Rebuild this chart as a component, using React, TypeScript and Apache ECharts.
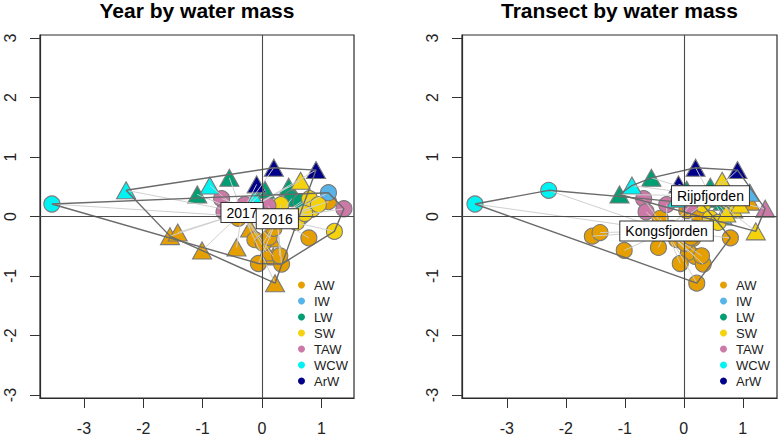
import React, { useEffect, useRef } from "react";
import * as echarts from "echarts";

const FONT = "'Liberation Sans', Arial, Helvetica, sans-serif";

// Water masses and their colours
const waterMasses = ["AW", "IW", "LW", "SW", "TAW", "WCW", "ArW"];
const massColors = ["#E69F00", "#56B4E9", "#009E73", "#F4D20C", "#CC79A7", "#00F2F2", "#00008B"];

// Ordination scores of the samples
const axis1 = [
  -3.54, -2.29, -0.88, -0.12, -1.09, -0.55, 0.45, 0.5, 0.66, 0.05,
  0.2, 0.91, -0.09, 0.65, 1.22, 0.32, 0.45, 0.58, 0.8, 0.84,
  0.72, 0.95, 1.12, 0.66, -0.68, -0.64, -0.29, 1.38, 0.1, -1.55,
  -1.42, -1.01, -0.43, 0.22, 0.19, -0.2, 0.15, 0.08, 0.79, -0.06,
  0.33, 0.3, -0.12, 0.02, 0.12, 0.05, 0.25, -0.4, 1.12, 0.2,
];
const axis2 = [
  0.21, 0.44, 0.52, 0.3, 0.37, 0.65, 0.5, 0.3, 0.25, 0.45,
  0.82, 0.78, 0.54, 0.6, -0.25, 0.2, -0.03, -0.1, 0.3, 0.12,
  0.05, 0.2, 0.4, 0.0, 0.3, 0.08, 0.2, 0.13, 0.18, -0.33,
  -0.27, -0.57, -0.52, -1.12, -0.67, -0.2, -0.37, -0.6, -0.36, -0.79,
  -0.8, -0.66, -0.39, -0.45, -0.35, 0.1, 0.03, -0.03, 0.25, -0.2,
];
const sampleMass = [
  "WCW", "WCW", "WCW", "WCW", "LW", "LW", "LW", "LW", "LW", "LW",
  "ArW", "ArW", "ArW", "SW", "SW", "SW", "SW", "SW", "SW", "SW",
  "SW", "SW", "IW", "IW", "TAW", "TAW", "TAW", "TAW", "TAW", "AW",
  "AW", "AW", "AW", "AW", "AW", "AW", "AW", "AW", "AW", "AW",
  "AW", "AW", "AW", "AW", "AW", "AW", "AW", "AW", "AW", "AW",
];
const sampleYear = [
  "2016", "2017", "2017", "2017", "2017", "2017", "2017", "2016", "2016", "2017",
  "2017", "2017", "2017", "2017", "2016", "2016", "2016", "2016", "2016", "2016",
  "2016", "2016", "2016", "2016", "2016", "2016", "2016", "2016", "2016", "2017",
  "2017", "2017", "2017", "2017", "2017", "2017", "2017", "2017", "2016", "2016",
  "2016", "2016", "2016", "2016", "2016", "2016", "2016", "2016", "2016", "2016",
];
const sampleTransect = [
  "Kongsfjorden", "Kongsfjorden", "Rijpfjorden", "Rijpfjorden", "Rijpfjorden", "Rijpfjorden", "Rijpfjorden", "Rijpfjorden", "Rijpfjorden", "Rijpfjorden",
  "Rijpfjorden", "Rijpfjorden", "Rijpfjorden", "Rijpfjorden", "Rijpfjorden", "Kongsfjorden", "Kongsfjorden", "Kongsfjorden", "Rijpfjorden", "Rijpfjorden",
  "Rijpfjorden", "Rijpfjorden", "Rijpfjorden", "Rijpfjorden", "Kongsfjorden", "Kongsfjorden", "Kongsfjorden", "Rijpfjorden", "Kongsfjorden", "Kongsfjorden",
  "Kongsfjorden", "Kongsfjorden", "Kongsfjorden", "Kongsfjorden", "Kongsfjorden", "Kongsfjorden", "Kongsfjorden", "Kongsfjorden", "Kongsfjorden", "Kongsfjorden",
  "Kongsfjorden", "Kongsfjorden", "Kongsfjorden", "Kongsfjorden", "Kongsfjorden", "Kongsfjorden", "Kongsfjorden", "Kongsfjorden", "Rijpfjorden", "Kongsfjorden",
];

const xTicks = [-3, -2, -1, 0, 1];
const yTicks = [-3, -2, -1, 0, 1, 2, 3];

const panelTitles = ["Year by water mass", "Transect by water mass"];
// first group of each panel is drawn with triangles, second with circles
const yearGroups = ["2017", "2016"];
const transectGroups = ["Rijpfjorden", "Kongsfjorden"];

function convexHull(pts: number[][]): number[][] {
  const p = pts.slice().sort((a, b) => a[0] - b[0] || a[1] - b[1]);
  const cross = (o: number[], a: number[], b: number[]) =>
    (a[0] - o[0]) * (b[1] - o[1]) - (a[1] - o[1]) * (b[0] - o[0]);
  const lower: number[][] = [];
  for (const q of p) {
    while (lower.length >= 2 && cross(lower[lower.length - 2], lower[lower.length - 1], q) <= 0) lower.pop();
    lower.push(q);
  }
  const upper: number[][] = [];
  for (let i = p.length - 1; i >= 0; i--) {
    const q = p[i];
    while (upper.length >= 2 && cross(upper[upper.length - 2], upper[upper.length - 1], q) <= 0) upper.pop();
    upper.push(q);
  }
  upper.pop();
  lower.pop();
  return lower.concat(upper);
}

function buildOption() {
  const panels = [
    { title: panelTitles[0], groups: yearGroups, member: sampleYear, xMin: -3.74, xMax: 1.55, left: 40, width: 314, legendLeft: 298 },
    { title: panelTitles[1], groups: transectGroups, member: sampleTransect, xMin: -3.76, xMax: 1.58, left: 462, width: 315, legendLeft: 720 },
  ];
  const top = 35;
  const height = 363;

  const grid: any[] = [];
  const xAxis: any[] = [];
  const yAxis: any[] = [];
  const series: any[] = [];
  const legend: any[] = [];
  const graphic: any[] = [];

  panels.forEach((pn, i) => {
    grid.push({ left: pn.left, top, width: pn.width, height, show: true, borderColor: "#2b2b2b", borderWidth: 1.2, backgroundColor: "transparent" });
    xAxis.push({
      type: "value", gridIndex: i, min: pn.xMin, max: pn.xMax,
      axisLine: { show: true, onZero: false, lineStyle: { color: "#2b2b2b", width: 1.2 } },
      axisTick: { show: true, length: 10, customValues: xTicks, lineStyle: { color: "#333", width: 1 } },
      axisLabel: { customValues: xTicks, fontSize: 16, fontFamily: FONT, color: "#222", margin: 22 },
      splitLine: { show: false },
    });
    yAxis.push({
      type: "value", gridIndex: i, min: -3.05, max: 3.05,
      axisLine: { show: true, onZero: false, lineStyle: { color: "#2b2b2b", width: 1.2 } },
      axisTick: { show: true, length: 10, customValues: yTicks, lineStyle: { color: "#333", width: 1 } },
      axisLabel: { customValues: yTicks, fontSize: 16, fontFamily: FONT, color: "#222", margin: 22, rotate: 90 },
      splitLine: { show: false },
    });

    graphic.push({
      type: "text", x: pn.left + pn.width / 2, y: 10, z: 10,
      style: { text: pn.title, font: `bold 21px ${FONT}`, fill: "#000", align: "center", verticalAlign: "middle", textAlign: "center", textVerticalAlign: "middle" },
    });

    // zero reference lines
    series.push({
      type: "line", xAxisIndex: i, yAxisIndex: i, data: [], silent: true, z: 1,
      markLine: {
        silent: true, symbol: ["none", "none"], label: { show: false },
        lineStyle: { color: "#4a4a4a", width: 1.1, type: "solid" },
        emphasis: { disabled: true },
        data: [{ xAxis: 0 }, { yAxis: 0 }],
      },
    });

    // points, one series per water mass
    waterMasses.forEach((m, k) => {
      const data: any[] = [];
      for (let j = 0; j < axis1.length; j++) {
        if (sampleMass[j] !== m) continue;
        const tri = pn.groups.indexOf(pn.member[j]) === 0;
        data.push({ value: [axis1[j], axis2[j]], symbol: tri ? "triangle" : "circle", symbolSize: tri ? [19, 17] : 16 });
      }
      series.push({
        type: "scatter", name: m, xAxisIndex: i, yAxisIndex: i, z: 2, data,
        itemStyle: { color: massColors[k], borderColor: "#7a7a7a", borderWidth: 1.1, opacity: 1 },
        emphasis: { disabled: true },
      });
    });

    // group centroids
    const cents = pn.groups.map((g) => {
      let sx = 0, sy = 0, n = 0;
      for (let j = 0; j < axis1.length; j++) {
        if (pn.member[j] === g) { sx += axis1[j]; sy += axis2[j]; n++; }
      }
      return [sx / n, sy / n];
    });

    // spider lines to centroids
    const spiderData = axis1.map((x, j) => {
      const c = cents[pn.groups.indexOf(pn.member[j])];
      return [x, axis2[j], c[0], c[1]];
    });
    series.push({
      type: "custom", xAxisIndex: i, yAxisIndex: i, z: 3, silent: true, data: spiderData,
      encode: { x: [0, 2], y: [1, 3] },
      renderItem: (params: any, api: any) => {
        const p = api.coord([api.value(0), api.value(1)]);
        const c = api.coord([api.value(2), api.value(3)]);
        return { type: "line", shape: { x1: p[0], y1: p[1], x2: c[0], y2: c[1] }, style: { stroke: "rgba(205,205,205,0.95)", lineWidth: 1 } };
      },
    });

    // convex hulls
    pn.groups.forEach((g) => {
      const pts: number[][] = [];
      for (let j = 0; j < axis1.length; j++) if (pn.member[j] === g) pts.push([axis1[j], axis2[j]]);
      const hull = convexHull(pts);
      hull.push(hull[0]);
      series.push({
        type: "line", xAxisIndex: i, yAxisIndex: i, z: 4, data: hull, showSymbol: false, symbol: "none",
        silent: true, lineStyle: { color: "#6b6b6b", width: 1.4 }, emphasis: { disabled: true },
      });
    });

    // centroid labels
    series.push({
      type: "custom", xAxisIndex: i, yAxisIndex: i, z: 5, silent: true, data: cents,
      renderItem: (params: any, api: any) => {
        const p = api.coord([api.value(0), api.value(1)]);
        return {
          type: "text", x: p[0], y: p[1],
          style: {
            text: pn.groups[params.dataIndex], fill: "#000", font: `14px ${FONT}`,
            align: "center", verticalAlign: "middle",
            backgroundColor: "#fff", borderColor: "#333", borderWidth: 1, padding: [3, 5, 2, 5],
          },
        };
      },
    });

    legend.push({
      orient: "vertical", left: pn.legendLeft, top: 277, padding: 0, itemGap: 0,
      itemWidth: 7, itemHeight: 7, icon: "circle", selectedMode: false,
      data: waterMasses,
      itemStyle: { borderWidth: 0 },
      textStyle: { fontSize: 13, fontFamily: FONT, color: "#222", lineHeight: 16, padding: [0, 0, 0, 4] },
    });
  });

  return { animation: false, backgroundColor: "#fff", grid, xAxis, yAxis, series, legend, graphic };
}

export default function App() {
  const ref = useRef<HTMLDivElement>(null);
  useEffect(() => {
    const chart = echarts.init(ref.current!, null, { renderer: "svg" });
    chart.setOption(buildOption() as any);
    return () => chart.dispose();
  }, []);
  return <div ref={ref} style={{ position: "fixed", left: 0, top: 0, width: 778, height: 438, background: "#fff" }} />;
}
